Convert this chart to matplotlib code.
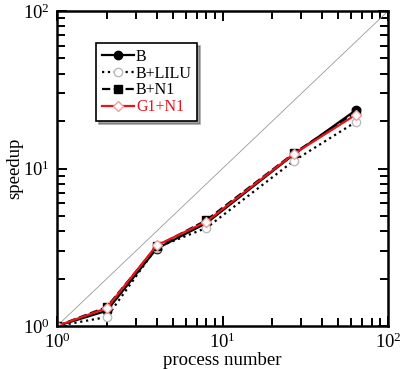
import matplotlib
matplotlib.use("Agg")
import matplotlib.pyplot as plt

plt.rcParams['font.family'] = ['Liberation Serif', 'DejaVu Serif']
plt.rcParams['mathtext.fontset'] = 'stix'

procs = [1, 2, 4, 8, 27, 64]
b_speedup = [1.0, 1.25, 3.1, 4.5, 12.3, 23.5]
lilu_speedup = [1.0, 1.14, 3.15, 4.2, 11.2, 19.8]
n1_speedup = [1.0, 1.32, 3.2, 4.7, 12.5, 22.8]
g1n1_speedup = [1.0, 1.30, 3.25, 4.6, 12.4, 22.0]
ideal = [1, 100]

fig = plt.figure(figsize=(4.0, 3.69), dpi=100)
ax = fig.add_axes([0.1425, 0.1165, 0.8275, 0.8535])

ax.plot(ideal, ideal, color='#999999', lw=0.6)
ax.plot(procs, b_speedup, 'k-', marker='o', ms=6, lw=1.6, label='B')
ax.plot(procs, lilu_speedup, 'k:', marker='o', ms=6, mfc='white', mec='#bbbbbb',
        lw=1.6, label='B+LILU')
ax.plot(procs, n1_speedup, 'k--', marker='s', ms=6, lw=1.6, label='B+N1')
ax.plot(procs, g1n1_speedup, '-', color='#e8141c', marker='D', ms=5, mfc='white',
        mec='#f0a0a0', lw=1.6, label='G1+N1')

ax.set_xscale('log')
ax.set_yscale('log')
ax.set_xlim(1, 100)
ax.set_ylim(1, 100)
ax.set_xlabel('process number', fontsize=13.5, labelpad=0)
ax.set_ylabel('speedup', fontsize=13.5, labelpad=0)

for s in ax.spines.values():
    s.set_linewidth(1.8)
ax.tick_params(which='both', direction='in', top=True, right=True, labelsize=13.5, width=1.4)
ax.tick_params(which='major', length=7)
ax.tick_params(which='minor', length=6)
ax.tick_params(axis='x', which='major', pad=5)
ax.tick_params(axis='y', which='major', pad=5)

leg = ax.legend(loc='upper left', bbox_to_anchor=(0.118, 0.898), fontsize=11.5,
                frameon=True, fancybox=False, shadow=True, handlelength=2.0,
                handletextpad=0.15, borderpad=0.35, labelspacing=0.05, borderaxespad=0)
leg.get_frame().set_edgecolor('black')
leg.get_frame().set_linewidth(1.2)
leg.get_texts()[3].set_color('#e8141c')

fig.savefig('out.png', dpi=100)
